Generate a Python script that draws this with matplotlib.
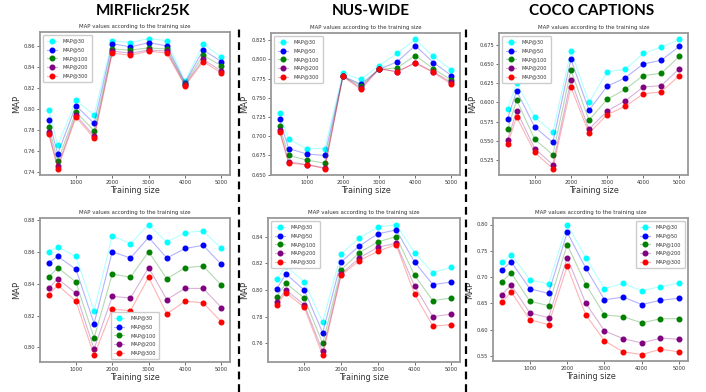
import matplotlib
matplotlib.use("Agg")
import matplotlib.pyplot as plt
from matplotlib.lines import Line2D
from matplotlib.colors import to_rgba

train_sizes = [250, 500, 1000, 1500, 2000, 2500, 3000, 3500, 4000, 4500, 5000]
series_labels = ["MAP@30", "MAP@50", "MAP@100", "MAP@200", "MAP@300"]
series_colors = ["cyan", "blue", "green", "purple", "red"]
column_titles = ["MIRFlickr25K", "NUS-WIDE", "COCO CAPTIONS"]

mir_top = [
    [0.799, 0.765, 0.808, 0.794, 0.865, 0.863, 0.867, 0.865, 0.826, 0.862, 0.849],
    [0.789, 0.757, 0.803, 0.786, 0.862, 0.859, 0.863, 0.860, 0.825, 0.856, 0.845],
    [0.783, 0.750, 0.797, 0.779, 0.857, 0.856, 0.858, 0.857, 0.824, 0.851, 0.841],
    [0.778, 0.745, 0.794, 0.774, 0.855, 0.853, 0.856, 0.855, 0.823, 0.847, 0.836],
    [0.776, 0.743, 0.792, 0.772, 0.853, 0.851, 0.855, 0.853, 0.822, 0.845, 0.834],
]
nus_top = [
    [0.730, 0.696, 0.684, 0.684, 0.782, 0.774, 0.792, 0.808, 0.826, 0.804, 0.786],
    [0.722, 0.684, 0.677, 0.675, 0.778, 0.768, 0.787, 0.797, 0.818, 0.796, 0.779],
    [0.713, 0.675, 0.669, 0.665, 0.778, 0.766, 0.787, 0.789, 0.805, 0.788, 0.773],
    [0.708, 0.667, 0.663, 0.659, 0.778, 0.763, 0.788, 0.784, 0.796, 0.784, 0.770],
    [0.706, 0.665, 0.663, 0.658, 0.778, 0.761, 0.788, 0.784, 0.795, 0.783, 0.768],
]
coco_top = [
    [0.591, 0.625, 0.581, 0.561, 0.667, 0.600, 0.640, 0.643, 0.664, 0.672, 0.682],
    [0.579, 0.615, 0.568, 0.548, 0.656, 0.590, 0.621, 0.632, 0.650, 0.655, 0.673],
    [0.565, 0.603, 0.552, 0.532, 0.642, 0.577, 0.604, 0.617, 0.635, 0.638, 0.660],
    [0.551, 0.589, 0.540, 0.519, 0.629, 0.565, 0.589, 0.602, 0.620, 0.622, 0.644],
    [0.546, 0.581, 0.535, 0.514, 0.620, 0.560, 0.584, 0.595, 0.611, 0.614, 0.635],
]
mir_bottom = [
    [0.860, 0.863, 0.857, 0.823, 0.870, 0.865, 0.877, 0.866, 0.872, 0.873, 0.862],
    [0.853, 0.857, 0.849, 0.815, 0.860, 0.856, 0.869, 0.856, 0.862, 0.864, 0.852],
    [0.844, 0.850, 0.841, 0.806, 0.846, 0.844, 0.860, 0.843, 0.850, 0.851, 0.839],
    [0.837, 0.843, 0.834, 0.799, 0.832, 0.831, 0.850, 0.830, 0.837, 0.837, 0.825],
    [0.833, 0.839, 0.829, 0.795, 0.824, 0.823, 0.844, 0.821, 0.829, 0.828, 0.816],
]
nus_bottom = [
    [0.808, 0.818, 0.806, 0.776, 0.827, 0.839, 0.847, 0.849, 0.828, 0.813, 0.817],
    [0.801, 0.812, 0.800, 0.768, 0.821, 0.833, 0.842, 0.845, 0.821, 0.804, 0.806],
    [0.795, 0.805, 0.794, 0.760, 0.815, 0.828, 0.836, 0.840, 0.811, 0.792, 0.794],
    [0.791, 0.800, 0.789, 0.754, 0.812, 0.824, 0.832, 0.835, 0.803, 0.780, 0.782],
    [0.789, 0.798, 0.787, 0.751, 0.811, 0.822, 0.829, 0.834, 0.797, 0.773, 0.774],
]
coco_bottom = [
    [0.729, 0.743, 0.695, 0.687, 0.800, 0.737, 0.678, 0.688, 0.674, 0.682, 0.689],
    [0.714, 0.729, 0.678, 0.669, 0.785, 0.717, 0.657, 0.662, 0.648, 0.656, 0.660],
    [0.691, 0.708, 0.654, 0.646, 0.762, 0.686, 0.628, 0.625, 0.613, 0.621, 0.621],
    [0.667, 0.685, 0.632, 0.623, 0.737, 0.650, 0.598, 0.583, 0.575, 0.584, 0.582],
    [0.652, 0.672, 0.619, 0.610, 0.721, 0.628, 0.579, 0.558, 0.553, 0.563, 0.558],
]

W, H = 706, 392
fig = plt.figure(figsize=(W / 100, H / 100), dpi=100)

def rect(l, t, r, b):
    return [l / W, 1 - b / H, (r - l) / W, (b - t) / H]

panels = [
    (rect(40, 32, 230, 175), mir_top, "upper left", [0.74, 0.76, 0.78, 0.80, 0.82, 0.84, 0.86], "{:.2f}"),
    (rect(271, 33, 460, 175), nus_top, "upper left", [0.65, 0.675, 0.70, 0.725, 0.75, 0.775, 0.80, 0.825], "{:.3f}"),
    (rect(499, 33, 688, 175), coco_top, "upper left", [0.525, 0.55, 0.575, 0.60, 0.625, 0.65, 0.675], "{:.3f}"),
    (rect(40, 218, 230, 362), mir_bottom, "lower center", [0.80, 0.82, 0.84, 0.86, 0.88], "{:.2f}"),
    (rect(268, 218, 460, 362), nus_bottom, "upper left", [0.76, 0.78, 0.80, 0.82, 0.84], "{:.2f}"),
    (rect(493, 218, 688, 361), coco_bottom, "upper right", [0.55, 0.60, 0.65, 0.70, 0.75, 0.80], "{:.2f}"),
]

for pos, data, loc, yt, fmt in panels:
    ax = fig.add_axes(pos)
    for vals, lab, col in zip(data, series_labels, series_colors):
        ax.plot(train_sizes, vals, color=to_rgba(col, 0.3), lw=0.8, marker="o", ms=3.3,
                markerfacecolor=col, markeredgecolor=col, label=lab)
    leg = ax.legend(loc=loc, fontsize=3.6, handlelength=2.0,
                    borderpad=0.7, labelspacing=0.75, handletextpad=1.2, framealpha=1,
                    borderaxespad=0.6)
    for txt in leg.get_texts():
        txt.set_color("#333333")
    ax.set_title("MAP values according to the training size", fontsize=3.9, pad=3, color="#333333")
    ax.set_xlabel("Training size", fontsize=5.8, labelpad=1, color="#333333")
    ax.set_ylabel("MAP", fontsize=6, labelpad=1.5, color="#333333")
    ax.set_xticks([1000, 2000, 3000, 4000, 5000])
    ax.set_yticks(yt)
    ax.set_yticklabels([fmt.format(v) for v in yt])
    ax.tick_params(labelsize=3.7, length=2, width=0.5, pad=1.5, colors="#333333")
    for s in ax.spines.values():
        s.set_color("#999999")
        s.set_linewidth(1.3)

for i, t in enumerate(column_titles):
    xc = [143, 371, 592][i]
    fig.text(xc / W, 1 - 11 / H, t, ha="center", va="center", fontsize=11,
             fontweight="bold", family=["Lato", "DejaVu Sans"])

for xd in [239, 466]:
    fig.add_artist(Line2D([xd / W, xd / W], [0.0, 1 - 27 / H], color="black",
                          lw=1.6, linestyle=(0, (3.5, 2.2)), transform=fig.transFigure))

fig.savefig("out.png", dpi=100, facecolor="white")
